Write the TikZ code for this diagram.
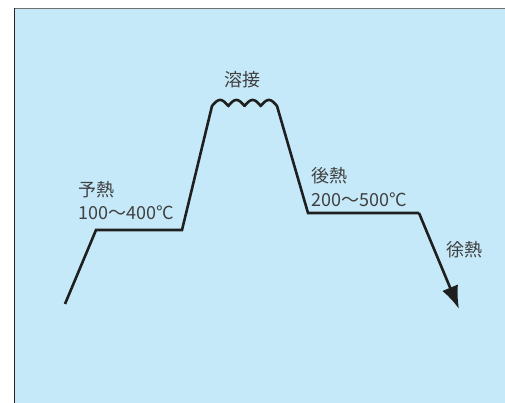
\documentclass[tikz,border=0pt]{standalone}
\usepackage{fontspec}
\setmainfont{Noto Sans CJK JP}
\usetikzlibrary{arrows.meta}
\definecolor{bgblue}{HTML}{C5E9F9}
\definecolor{txtgray}{HTML}{404040}
\definecolor{topgray}{HTML}{707070}
\tikzset{
  lbl/.style={anchor=west, inner sep=0pt, text=txtgray, font=\fontsize{18}{20}\selectfont},
  curve/.style={line width=2.6pt, color=black!88, line join=miter},
}
\begin{document}
\begin{tikzpicture}[x=1pt,y=-1pt]
\useasboundingbox (0,0) rectangle (505,403);
\fill[bgblue] (14,8) rectangle (505,403);
\draw[topgray, line width=1.6pt] (14,8.5) -- (505,8.5);
\draw[black!85, line width=1.8pt] (14.5,8) -- (14.5,403);
% key points
\coordinate (p0) at (65,304);
\coordinate (p1) at (96,230);
\coordinate (p2) at (182,230);
\coordinate (p3) at (212,106);
\coordinate (p4) at (277,106);
\coordinate (p5) at (308,213);
\coordinate (p6) at (419,213);
\coordinate (p7) at (459,309);
\draw[curve] (p0) -- (p1) -- (p2) -- (p3)
  -- plot[domain=0:4, samples=120] ({212+16.25*\x}, {106-6*sin(180*(\x-floor(\x)))})
  -- (p4) -- (p5) -- (p6);
\draw[curve, -{Latex[length=23pt,width=17pt]}] (p6) -- (p7);
% labels
\node[lbl] (weld) at (224,80) {溶接};
\node[lbl] (pre) at (78,190) {予熱};
\node[lbl] (pret) at (78,213) {100～400°C};
\node[lbl] (post) at (311,176) {後熱};
\node[lbl] (postt) at (311,200) {200～500°C};
\node[lbl] (slow) at (446,250) {徐熱};
\end{tikzpicture}
\end{document}
